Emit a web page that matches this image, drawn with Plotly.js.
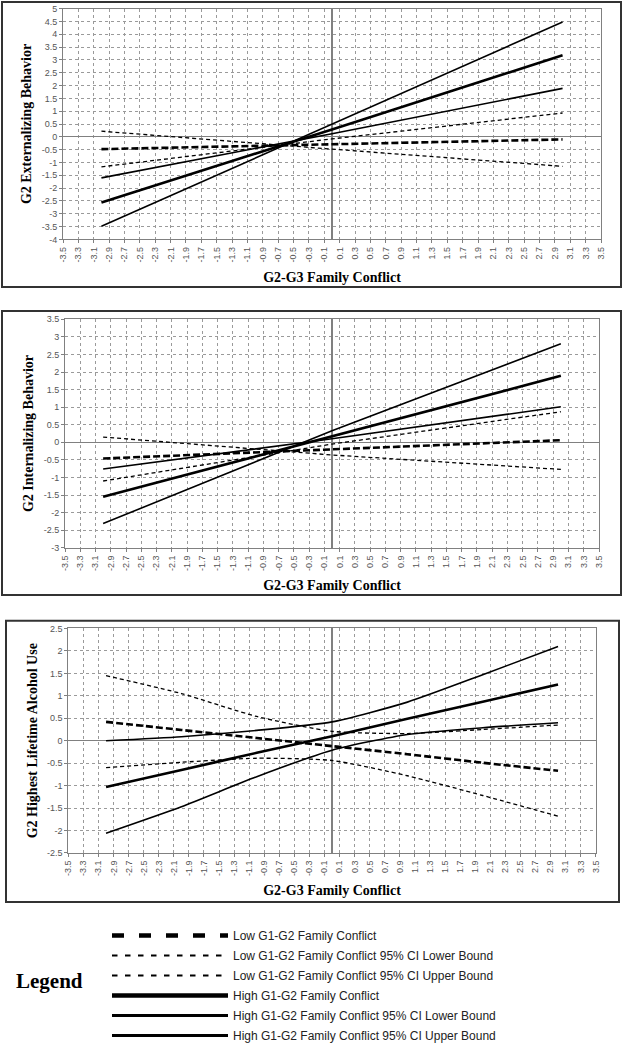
<!DOCTYPE html>
<html><head><meta charset="utf-8">
<script src="https://cdn.plot.ly/plotly-3.0.1.min.js"></script>
<style>html,body{margin:0;padding:0;background:#fff;} #chart{width:624px;height:1050px;}</style>
</head><body><div id="chart"></div>
<script>
// ---------- DATA ----------
const seriesNames = [
  'Low G1-G2 Family Conflict',
  'Low G1-G2 Family Conflict 95% CI Lower Bound',
  'Low G1-G2 Family Conflict 95% CI Upper Bound',
  'High G1-G2 Family Conflict',
  'High G1-G2 Family Conflict 95% CI Lower Bound',
  'High G1-G2 Family Conflict 95% CI Upper Bound'
];
const xTitle = 'G2-G3 Family Conflict';

// Panel 1: G2 Externalizing Behavior
const extTitle = 'G2 Externalizing Behavior';
const extX = [-3, 0, 3];
const extLow = [-0.48, -0.29, -0.10];
const extLowLower = [0.22, -0.48, -1.15];
const extLowUpper = [-1.17, -0.08, 0.93];
const extHigh = [-2.56, 0.29, 3.18];
const extHighLower = [-1.60, 0.12, 1.89];
const extHighUpper = [-3.49, 0.49, 4.48];

// Panel 2: G2 Internalizing Behavior
const intTitle = 'G2 Internalizing Behavior';
const intX = [-3, 0, 3];
const intLow = [-0.46, -0.20, 0.06];
const intLowLower = [0.15, -0.36, -0.77];
const intLowUpper = [-1.10, -0.05, 0.87];
const intHigh = [-1.55, 0.17, 1.89];
const intHighLower = [-0.76, 0.10, 1.01];
const intHighUpper = [-2.31, 0.33, 2.80];

// Panel 3: G2 Highest Lifetime Alcohol Use
const alcTitle = 'G2 Highest Lifetime Alcohol Use';
const alcX = [-3, -2, -1, 0, 1, 2, 3];
const alcLow = [0.42, 0.24, 0.06, -0.12, -0.30, -0.49, -0.67];
const alcLowLower = [-0.60, -0.48, -0.39, -0.44, -0.78, -1.22, -1.68];
const alcLowUpper = [1.45, 1.05, 0.54, 0.21, 0.16, 0.25, 0.35];
const alcHigh = [-1.03, -0.65, -0.27, 0.10, 0.49, 0.87, 1.25];
const alcHighLower = [-2.06, -1.47, -0.80, -0.21, 0.14, 0.29, 0.40];
const alcHighUpper = [0.00, 0.09, 0.23, 0.42, 0.86, 1.47, 2.10];

// Axis ranges / ticks
const xRange = [-3.5, 3.5];
const extRange = [-4, 5];
const intRange = [-3, 3.5];
const alcRange = [-2.5, 2.5];
const legendTitle = 'Legend';

// ---------- helpers ----------
function ticksStep(lo, hi, step, dec) {
  const vals = [], txt = [];
  const n = Math.round((hi - lo) / step);
  for (let i = 0; i <= n; i++) {
    const v = +(lo + i * step).toFixed(dec);
    vals.push(v);
    txt.push(dec ? v.toFixed(dec) : String(v));
  }
  return {vals, txt};
}
function yTicks(lo, hi) {
  const vals = [], txt = [];
  const n = Math.round((hi - lo) / 0.5);
  for (let i = 0; i <= n; i++) {
    const v = +(lo + i * 0.5).toFixed(1);
    vals.push(v); txt.push(String(v));
  }
  return {vals, txt};
}
const xt = ticksStep(-3.5, 3.5, 0.2, 1);

const styles = [
  {color:'#000', width:2.6, dash:'7px,3px'},
  {color:'#000', width:1.3, dash:'4px,3px'},
  {color:'#000', width:1.3, dash:'4px,3px'},
  {color:'#000', width:2.6, dash:'solid'},
  {color:'#000', width:1.6, dash:'solid'},
  {color:'#000', width:1.6, dash:'solid'}
];
const legendStyles = [
  {color:'#000', width:4.5, dash:'12px,15px'},
  {color:'#000', width:2, dash:'5.5px,7.5px'},
  {color:'#000', width:2, dash:'5.5px,7.5px'},
  {color:'#000', width:4.5, dash:'solid'},
  {color:'#000', width:3.2, dash:'solid'},
  {color:'#000', width:3.2, dash:'solid'}
];

const panels = [
  {x: extX, ys:[extLow, extLowLower, extLowUpper, extHigh, extHighLower, extHighUpper], range: extRange, title: extTitle,
   xd:[63/624, 601/624], yd:[1-241/1050, 1-8.7/1050], shape:'linear'},
  {x: intX, ys:[intLow, intLowLower, intLowUpper, intHigh, intHighLower, intHighUpper], range: intRange, title: intTitle,
   xd:[65/624, 599/624], yd:[1-551.5/1050, 1-321.4/1050], shape:'linear'},
  {x: alcX, ys:[alcLow, alcLowLower, alcLowUpper, alcHigh, alcHighLower, alcHighUpper], range: alcRange, title: alcTitle,
   xd:[68.4/624, 595.7/624], yd:[1-858.7/1050, 1-632.7/1050], shape:'spline'}
];

const traces = [];
const layout = {
  width: 624, height: 1050,
  margin: {l:0, r:0, t:0, b:0, pad:0},
  paper_bgcolor: '#fff', plot_bgcolor: '#fff',
  font: {family: 'Liberation Sans, Arial, sans-serif', color:'#333'},
  showlegend: true,
  legend: {
    x: 107/624, y: 1-927.5/1050, xanchor:'left', yanchor:'top',
    font: {family:'Liberation Sans, Arial, sans-serif', size:12, color:'#222'},
    itemwidth: 116, tracegroupgap: 1, traceorder:'grouped',
    bgcolor:'rgba(0,0,0,0)', borderwidth:0
  },
  shapes: [
    {type:'rect', xref:'paper', yref:'paper', x0:2/624, x1:621/624, y0:1-289/1050, y1:1-2/1050, line:{color:'#333', width:2}},
    {type:'rect', xref:'paper', yref:'paper', x0:2/624, x1:621/624, y0:1-599/1050, y1:1-313/1050, line:{color:'#333', width:2}},
    {type:'rect', xref:'paper', yref:'paper', x0:6/624, x1:619/624, y0:1-908/1050, y1:1-625/1050, line:{color:'#333', width:2}}
  ],
  annotations: [
    {xref:'paper', yref:'paper', x:49/624, y:1-988/1050, xanchor:'center', yanchor:'middle', showarrow:false,
     text:'<b>' + legendTitle + '</b>', font:{family:'Liberation Serif, Times New Roman, serif', size:21, color:'#000'}}
  ]
};

panels.forEach((p, i) => {
  const k = i + 1;
  const xa = 'x' + (k === 1 ? '' : k), ya = 'y' + (k === 1 ? '' : k);
  p.ys.forEach((ys, j) => {
    traces.push({type:'scatter', mode:'lines', x: p.x, y: ys, xaxis: xa, yaxis: ya,
      name: seriesNames[j], showlegend:false,
      line: Object.assign({shape: p.shape, smoothing: 0.6}, styles[j]), hoverinfo:'skip'});
  });
  const yt = yTicks(p.range[0], p.range[1]);
  layout['xaxis' + (k === 1 ? '' : k)] = {
    domain: p.xd, anchor: ya, range: xRange,
    tickmode:'array', tickvals: xt.vals, ticktext: xt.txt, tickangle: -90,
    tickfont:{family:'Liberation Sans, Arial, sans-serif', size:9, color:'#555'},
    showgrid:true, gridcolor:'#9a9a9a', griddash:'dot', gridwidth:1,
    zeroline:true, zerolinecolor:'#808080', zerolinewidth:1.2,
    showline:true, linecolor:'#808080', linewidth:1, mirror:true,
    ticks:'outside', ticklen:3, tickcolor:'#808080', fixedrange:true,
    title:{text:'<b>' + xTitle + '</b>', standoff: 10,
      font:{family:'Liberation Serif, Times New Roman, serif', size:14, color:'#000'}}
  };
  layout['yaxis' + (k === 1 ? '' : k)] = {
    domain: p.yd, anchor: xa, range: p.range,
    tickmode:'array', tickvals: yt.vals, ticktext: yt.txt,
    tickfont:{family:'Liberation Sans, Arial, sans-serif', size:9, color:'#555'},
    showgrid:true, gridcolor:'#9a9a9a', griddash:'dot', gridwidth:1,
    zeroline:true, zerolinecolor:'#808080', zerolinewidth:1.2,
    showline:true, linecolor:'#808080', linewidth:1, mirror:true,
    ticks:'outside', ticklen:3, tickcolor:'#808080', fixedrange:true,
    title:{text:'<b>' + p.title + '</b>', standoff: 6,
      font:{family:'Liberation Serif, Times New Roman, serif', size:14, color:'#000'}}
  };
});

// legend key entries (no data points; only shown in the legend)
seriesNames.forEach((n, j) => {
  traces.push({type:'scatter', mode:'lines', x:[null], y:[null], xaxis:'x', yaxis:'y',
    name: n, legendgroup: 'g' + j, showlegend:true, line: legendStyles[j], hoverinfo:'skip'});
});

Plotly.newPlot('chart', traces, layout, {displayModeBar:false, staticPlot:true});
</script></body></html>
